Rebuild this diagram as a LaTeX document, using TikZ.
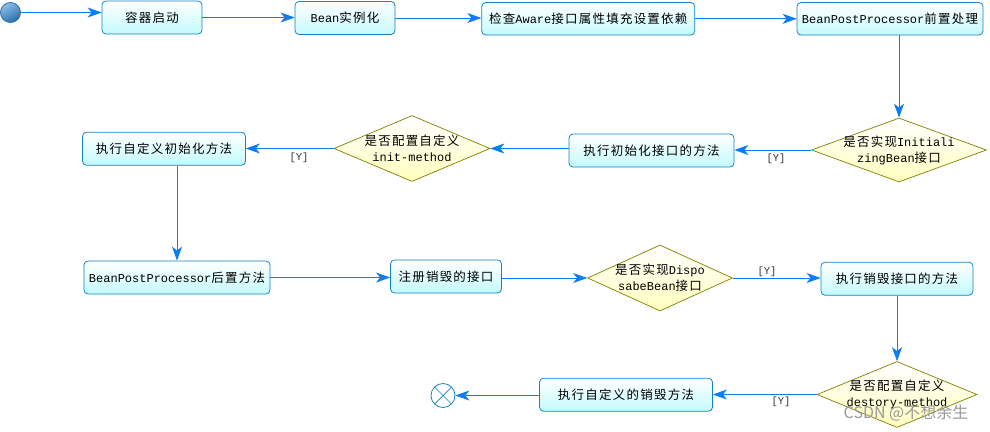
\documentclass[tikz,border=0pt]{standalone}
\usepackage{fontspec}
\setmainfont{Liberation Mono}
\newfontfamily\cjk[Scale=1.04,LetterSpace=10]{Noto Sans CJK SC}
\newfontfamily\wmfont{Noto Sans CJK SC}
\newcommand\C[1]{{\cjk #1}}
\usetikzlibrary{shapes.geometric,arrows.meta}
\definecolor{boxborder}{RGB}{20,130,200}
\definecolor{boxfill}{RGB}{195,250,252}
\definecolor{diaborder}{RGB}{128,128,0}
\definecolor{diafill}{RGB}{255,255,190}
\definecolor{arrowc}{RGB}{10,125,245}
\definecolor{balllight}{RGB}{140,190,230}
\definecolor{balldark}{RGB}{40,110,170}
\begin{document}
\begin{tikzpicture}[x=1pt,y=-1pt,
  txt/.style={font=\fontsize{12}{16}\selectfont, align=center, text=black},
  stepbox/.style={txt, draw=boxborder, line width=0.8pt, rounded corners=4pt,
    top color=white, bottom color=boxfill, minimum height=33pt, inner sep=0pt},
  decide/.style={diamond, draw=diaborder, line width=0.7pt, top color=white, bottom color=diafill,
    inner sep=0pt},
  flow/.style={draw=arrowc, line width=0.9pt, -{Stealth[length=14pt,width=10pt,inset=4pt]}},
  ylab/.style={font=\fontsize{10.5}{13}\selectfont, text=black!80, inner sep=0pt},
  wmark/.style={font=\wmfont\fontsize{16}{18}\selectfont, text=black!40, inner sep=0pt}
]
\useasboundingbox[fill=white] (0,0) rectangle (990,431);

% start and end
\node[circle, draw=balldark, line width=0.8pt, minimum size=20pt, inner sep=0pt,
  top color=balllight, bottom color=balldark, shading angle=30] (start) at (10.5,12.5) {};
\node[circle, draw=boxborder, line width=0.8pt, fill=white, minimum size=24pt, inner sep=0pt,
  path picture={\draw[boxborder, line width=0.7pt]
     (path picture bounding box.north west) -- (path picture bounding box.south east)
     (path picture bounding box.north east) -- (path picture bounding box.south west);}] (end) at (443,395.5) {};

% boxes
\node[stepbox, minimum width=100pt] (b1) at (152,17.5) {\C{容器启动}};
\node[stepbox, minimum width=100pt] (b2) at (345,18) {Bean\C{实例化}};
\node[stepbox, minimum width=213pt, minimum height=32.5pt] (b3) at (588.3,18.8) {\C{检查}Aware\C{接口属性填充设置依赖}};
\node[stepbox, minimum width=186pt, minimum height=32.5pt] (b4) at (890,18.8) {BeanPostProcessor\C{前置处理}};
\node[stepbox, minimum width=165pt] (b5) at (651.5,150.5) {\C{执行初始化接口的方法}};
\node[stepbox, minimum width=163pt] (b6) at (164,148.7) {\C{执行自定义初始化方法}};
\node[stepbox, minimum width=186pt] (b7) at (177,277.5) {BeanPostProcessor\C{后置方法}};
\node[stepbox, minimum width=111pt] (b8) at (446,276.5) {\C{注册销毁的接口}};
\node[stepbox, minimum width=152pt] (b9) at (897,278.7) {\C{执行销毁接口的方法}};
\node[stepbox, minimum width=173pt] (b10) at (626,394.7) {\C{执行自定义的销毁方法}};

% decisions
\node[decide, minimum width=175pt, minimum height=64pt] (d1) at (899,150) {};
\node[txt] (d1t) at (d1) {\C{是否实现}Initiali\\zingBean\C{接口}};
\node[decide, minimum width=156pt, minimum height=66pt] (d2) at (412,148.5) {};
\node[txt] (d2t) at (d2) {\C{是否配置自定义}\\init-method};
\node[decide, minimum width=145pt, minimum height=66pt] (d3) at (660,278) {};
\node[txt] (d3t) at (d3) {\C{是否实现}Dispo\\sabeBean\C{接口}};
\node[decide, minimum width=160pt, minimum height=66pt] (d4) at (897,394.5) {};
\node[txt] (d4t) at (d4) {\C{是否配置自定义}\\destory-method};

% connectors
\draw[flow] (start.east) -- (start.east -| b1.west);
\draw[flow] (b1.east) -- (b1.east -| b2.west);
\draw[flow] (b2.east) -- (b2.east -| b3.west);
\draw[flow] (b3.east) -- (b3.east -| b4.west);
\draw[flow] (b4.south -| d1.north) -- (d1.north);
\draw[flow] (d1.west) -- (d1.west -| b5.east);
\draw[flow] (d2.east -| b5.west) -- (d2.east);
\draw[flow] (d2.west) -- (d2.west -| b6.east);
\draw[flow] (b6.south -| b7.north) -- (b7.north);
\draw[flow] (b7.east) -- (b7.east -| b8.west);
\draw[flow] (d3.west -| b8.east) -- (d3.west);
\draw[flow] (d3.east) -- (d3.east -| b9.west);
\draw[flow] (b9.south) -- (d4.north);
\draw[flow] (d4.west) -- (d4.west -| b10.east);
\draw[flow] (end.east -| b10.west) -- (end.east);

% guard labels
\node[ylab] (y1) at (776,158.5) {[Y]};
\node[ylab] (y2) at (299,158) {[Y]};
\node[ylab] (y3) at (767,272) {[Y]};
\node[ylab] (y4) at (781,401.5) {[Y]};

% watermark
\node[wmark] (wm) at (906,413) {CSDN @不想余生};
\end{tikzpicture}
\end{document}
